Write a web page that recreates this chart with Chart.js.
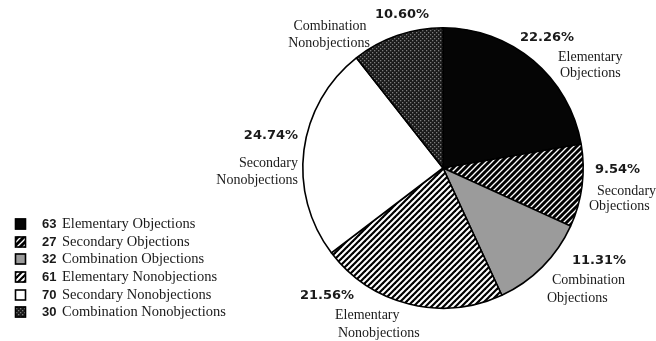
<!DOCTYPE html>
<html>
<head>
<meta charset="utf-8">
<script src="https://cdn.jsdelivr.net/npm/chart.js@4.4.1/dist/chart.umd.min.js"></script>
<style>
  html, body { margin: 0; padding: 0; background: #fff; }
  #wrap { position: relative; width: 656px; height: 341px; }
</style>
</head>
<body>
<div id="wrap"><canvas id="c" width="656" height="341"></canvas></div>
<script>
// Response counts by category
const categories = [
  'Elementary Objections',
  'Secondary Objections',
  'Combination Objections',
  'Elementary Nonobjections',
  'Secondary Nonobjections',
  'Combination Nonobjections'
];
const counts = [63, 27, 32, 61, 70, 30];
const percentLabels = ['22.26%', '9.54%', '11.31%', '21.56%', '24.74%', '10.60%'];
const sliceCaptions = [
  ['Elementary', 'Objections'],
  ['Secondary', 'Objections'],
  ['Combination', 'Objections'],
  ['Elementary', 'Nonobjections'],
  ['Secondary', 'Nonobjections'],
  ['Combination', 'Nonobjections']
];

// ---- fill patterns ----
function tile(size, paint) {
  const t = document.createElement('canvas');
  t.width = size; t.height = size;
  const g = t.getContext('2d');
  paint(g, size);
  return document.createElement('canvas').getContext('2d').createPattern(t, 'repeat');
}
function stripes(bg, fg, size, lw) {
  return tile(size, (g, s) => {
    g.fillStyle = bg; g.fillRect(0, 0, s, s);
    g.strokeStyle = fg; g.lineWidth = lw; g.lineCap = 'square';
    for (let k = -1; k <= 1; k++) {
      g.beginPath(); g.moveTo(k * s, s); g.lineTo(k * s + s, 0); g.stroke();
    }
  });
}
const dotted = tile(4, (g, s) => {
  g.fillStyle = '#1a1a1a'; g.fillRect(0, 0, s, s);
  g.fillStyle = '#7c7c7c';
  g.fillRect(0, 0, 1.3, 1.3);
  g.fillRect(2, 2, 1.3, 1.3);
});
const fills = [
  '#050505',
  stripes('#000', '#fff', 6, 1.3),
  '#9b9b9b',
  stripes('#fff', '#000', 6, 2.2),
  '#ffffff',
  dotted
];

// ---- text placement for slice annotations ----
const pctPos = [
  { x: 520, y: 38, a: 'left' },
  { x: 595, y: 170, a: 'left' },
  { x: 572, y: 261, a: 'left' },
  { x: 300, y: 296, a: 'left' },
  { x: 298, y: 136, a: 'right' },
  { x: 375, y: 15, a: 'left' }
];
const capPos = [
  [{ x: 558, y: 57, a: 'left' }, { x: 560, y: 73, a: 'left' }],
  [{ x: 597, y: 191, a: 'left' }, { x: 589, y: 206, a: 'left' }],
  [{ x: 552, y: 280, a: 'left' }, { x: 547, y: 298, a: 'left' }],
  [{ x: 335, y: 315, a: 'left' }, { x: 338, y: 333, a: 'left' }],
  [{ x: 298, y: 163, a: 'right' }, { x: 298, y: 180, a: 'right' }],
  [{ x: 330, y: 26, a: 'center' }, { x: 329, y: 43, a: 'center' }]
];
const legendRows = [224, 242, 259, 277, 295, 312];

const annotations = {
  id: 'annotations',
  afterDraw(chart) {
    const ctx = chart.ctx;
    ctx.save();
    ctx.textBaseline = 'middle';
    ctx.fillStyle = '#1a1a1a';
    // percentages
    ctx.font = 'bold 13px "DejaVu Sans"';
    percentLabels.forEach((p, i) => {
      ctx.textAlign = pctPos[i].a;
      ctx.fillText(p, pctPos[i].x, pctPos[i].y);
    });
    // captions
    ctx.font = '14px "Liberation Serif"';
    sliceCaptions.forEach((lines, i) => {
      lines.forEach((ln, j) => {
        const p = capPos[i][j];
        ctx.textAlign = p.a;
        ctx.fillText(ln, p.x, p.y);
      });
    });
    // legend
    categories.forEach((name, i) => {
      const y = legendRows[i];
      ctx.fillStyle = fills[i];
      ctx.fillRect(15, y - 5.5, 11, 11);
      ctx.strokeStyle = '#000';
      ctx.lineWidth = 1.6;
      ctx.strokeRect(15.5, y - 5, 10, 10);
      ctx.fillStyle = '#1a1a1a';
      ctx.textAlign = 'left';
      ctx.font = 'bold 13px "Liberation Sans"';
      ctx.fillText(String(counts[i]), 42, y);
      ctx.font = '14.5px "Liberation Serif"';
      ctx.fillText(name, 62, y);
    });
    ctx.restore();
  }
};

new Chart(document.getElementById('c'), {
  type: 'pie',
  data: {
    labels: categories,
    datasets: [{
      data: counts,
      backgroundColor: fills,
      borderColor: '#000',
      borderWidth: 1.6,
      hoverOffset: 0
    }]
  },
  options: {
    responsive: false,
    animation: false,
    events: [],
    layout: { padding: { left: 302, right: 72, top: 27, bottom: 32 } },
    plugins: {
      legend: { display: false },
      tooltip: { enabled: false }
    }
  },
  plugins: [annotations]
});
</script>
</body>
</html>
